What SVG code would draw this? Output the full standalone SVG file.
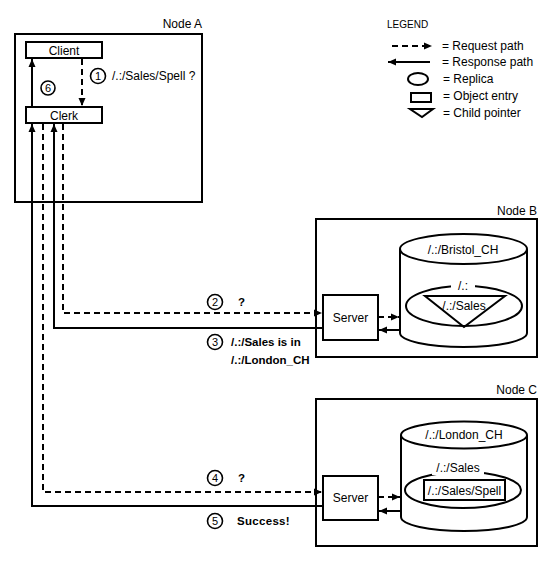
<svg xmlns="http://www.w3.org/2000/svg" width="556" height="562" viewBox="0 0 556 562">
<defs>
<marker id="ah" markerUnits="userSpaceOnUse" markerWidth="9" markerHeight="8" refX="8" refY="4" orient="auto">
<path d="M0,0.5 L8,4 L0,7.5 z" fill="#000"/>
</marker>
<style>
text{font-family:"Liberation Sans",Arial,sans-serif;font-size:12px;fill:#000}
.box{fill:#fff;stroke:#000;stroke-width:2}
.shape{fill:none;stroke:#000;stroke-width:2}
.req{fill:none;stroke:#000;stroke-width:2;stroke-dasharray:6 4;marker-end:url(#ah)}
.resp{fill:none;stroke:#000;stroke-width:2;marker-end:url(#ah)}
.num{fill:#fff;stroke:#000;stroke-width:1.6}
.nt{font-size:11px;text-anchor:middle}
.b{font-weight:bold;font-size:11.5px}
.c{text-anchor:middle}
.r{text-anchor:end}
</style>
</defs>
<rect width="556" height="562" fill="#fff"/>

<g id="nodeA">
<rect class="box" x="15" y="34" width="187" height="168"/>
<text class="r" x="202" y="28">Node A</text>
</g>
<g id="nodeB">
<rect class="box" x="316" y="219" width="221" height="138"/>
<text class="r" x="537" y="215">Node B</text>
</g>
<g id="nodeC">
<rect class="box" x="316" y="399" width="221" height="147"/>
<text class="r" x="537" y="394">Node C</text>
</g>

<g id="client">
<rect class="box" x="26" y="42" width="76" height="16"/>
<text class="c" x="64" y="54.5">Client</text>
</g>
<g id="clerk">
<rect class="box" x="26" y="107" width="76" height="16"/>
<text class="c" x="64" y="119.5">Clerk</text>
</g>

<g id="cylB">
<path class="shape" d="M400,249 V333 A63.5,14 0 0 0 527,333 V249"/>
<ellipse class="shape" cx="463.5" cy="249" rx="63.5" ry="15"/>
<text class="c" x="463" y="254">/.:/Bristol_CH</text>
<ellipse class="shape" cx="464" cy="306" rx="58" ry="20"/>
<rect x="451" y="280" width="24" height="12" fill="#fff"/>
<text class="c" x="463" y="290">/.:</text>
<path class="shape" d="M425,296 L505,296 L464,327 z"/>
<text class="c" x="464" y="310">/.:/Sales</text>
</g>

<g id="cylC">
<path class="shape" d="M401,435 V517 A63,14 0 0 0 527,517 V435"/>
<ellipse class="shape" cx="464" cy="435" rx="63" ry="13.5"/>
<text class="c" x="464" y="439">/.:/London_CH</text>
<ellipse class="shape" cx="463" cy="490" rx="58" ry="18"/>
<rect x="432" y="463" width="52" height="12" fill="#fff"/>
<text class="c" x="458" y="472">/.:/Sales</text>
<rect class="box" x="424" y="480" width="81" height="20"/>
<text class="c" x="464.5" y="494.5">/.:/Sales/Spell</text>
</g>

<g id="serverB">
<rect class="box" x="323" y="295" width="55" height="45"/>
<text class="c" x="350.5" y="322">Server</text>
</g>
<g id="serverC">
<rect class="box" x="323" y="476" width="55" height="44"/>
<text class="c" x="350.5" y="502">Server</text>
</g>

<g id="connectors">
<path class="req" d="M82,59 V106"/>
<path class="resp" d="M32,107 V59"/>
<path class="req" d="M63,124 V313 H322"/>
<path class="resp" d="M323,328 H54 V124"/>
<path class="req" d="M43,124 V492 H322"/>
<path class="resp" d="M323,506 H32 V124"/>
<path class="req" d="M378,317 H399"/>
<path class="resp" d="M400,330 H379"/>
<path class="req" d="M378,497 H400"/>
<path class="resp" d="M401,511 H379"/>
</g>

<g id="labels">
<circle class="num" cx="98" cy="76" r="7.5"/><text class="nt" x="98" y="80">1</text>
<text x="112" y="80">/.:/Sales/Spell ?</text>
<circle class="num" cx="48" cy="88" r="7"/><text class="nt" x="48" y="92">6</text>
<circle class="num" cx="215" cy="302" r="7.5"/><text class="nt" x="215" y="306">2</text>
<text class="b" x="238" y="306">?</text>
<circle class="num" cx="215" cy="342" r="7.5"/><text class="nt" x="215" y="346">3</text>
<text class="b" x="231" y="346">/.:/Sales is in</text>
<text class="b" x="231" y="364">/.:/London_CH</text>
<circle class="num" cx="215" cy="478" r="7.5"/><text class="nt" x="215" y="482">4</text>
<text class="b" x="238" y="482">?</text>
<circle class="num" cx="215" cy="521" r="7.5"/><text class="nt" x="215" y="525">5</text>
<text class="b" x="237" y="525" letter-spacing="0.3">Success!</text>
</g>

<g id="legend">
<text x="387" y="28" style="font-size:10px">LEGEND</text>
<path class="req" d="M392,46 H432"/>
<text x="442" y="50">= Request path</text>
<path class="resp" d="M430,62 H388"/>
<text x="442" y="66">= Response path</text>
<ellipse class="shape" cx="418" cy="79" rx="10" ry="6"/>
<text x="443" y="83">= Replica</text>
<rect class="shape" x="411" y="93" width="20" height="9"/>
<text x="443" y="100">= Object entry</text>
<path class="shape" d="M410,109 L433,109 L422,117 z"/>
<text x="443" y="117">= Child pointer</text>
</g>
</svg>
